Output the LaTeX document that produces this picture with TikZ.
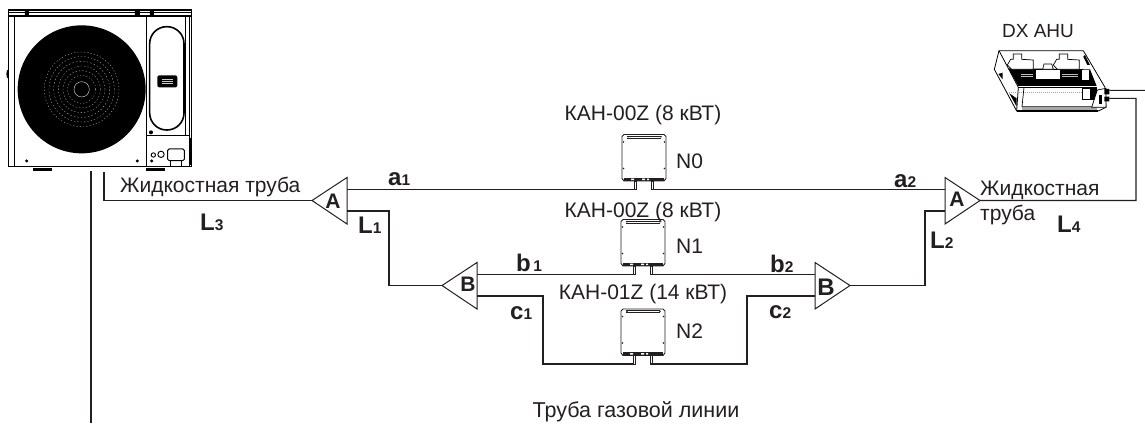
\documentclass[tikz,border=0pt]{standalone}
\usepackage{fontspec}
\setmainfont{Liberation Sans}
\definecolor{ink}{HTML}{231F20}
\tikzset{
  pipe/.style={draw=ink,line width=1.1pt,line join=miter},
  txt/.style={text=ink,font=\fontsize{21}{24}\selectfont,inner sep=0pt},
  lbl/.style={text=ink,inner sep=0pt,anchor=base west},
  tee/.style={draw=ink,line width=1pt,fill=white},
  pics/device/.style={code={
    \draw[draw=ink,line width=.9pt,fill=white] (2,0)--(42,0)--(44,2)--(44,44)--(42,46.5)--(2,46.5)--(0,44)--(0,2)--cycle;
    \draw[ink,line width=.5pt] (5,1.5)--(39,1.5) (5,3.5)--(39,3.5);
    \foreach \p in {(6,2.3),(39,2.3),(1.5,7.5),(42.5,7.5),(1.5,34),(42.5,34)} \fill[ink] \p circle (.9);
    \fill[ink] (2,43.2) rectangle (42,46.5);
    \fill[white] (9,44) rectangle (12,45.5) (20,44) rectangle (23,45.5) (25,44) rectangle (27,45.5);
    \draw[ink,line width=.5pt,fill=white] (12,46.5) rectangle (14,55) (29,46.5) rectangle (31,55);
    \coordinate (-l) at (13,55);
    \coordinate (-r) at (30,55);
  }},
  pics/teeL/.style={code={
    \draw[tee] (0,0)--(35,-23)--(35,23.5)--cycle;
    \coordinate (-tip) at (0,0);
    \coordinate (-a) at (35,-11);
    \coordinate (-b) at (35,10.5);
  }},
  pics/teeR/.style={code={
    \draw[tee] (0,0)--(-35,-23)--(-35,23.5)--cycle;
    \coordinate (-tip) at (0,0);
    \coordinate (-a) at (-35,-11);
    \coordinate (-b) at (-35,10.5);
  }},
}
\newcommand{\sbb}[2]{{\fontsize{24}{24}\selectfont\bfseries #1}{\fontsize{15.5}{15}\selectfont\bfseries #2}}
\begin{document}
\begin{tikzpicture}[x=1pt,y=-1pt]
\useasboundingbox (0,0) rectangle (1145,423);
% ---------- outdoor unit
\begin{scope}[x=.33333pt,y=-.33333pt]
  \fill[black] (100,503) rectangle (157,513);
  \fill[black] (438,503) rectangle (495,513);
  \fill[black] (25,222) ellipse (6 and 14);
  \draw[black,line width=1.2pt,fill=white] (25,30) rectangle (575,500);
  \draw[black,line width=.8pt] (25,37)--(575,37);
  \draw[black,line width=1pt] (25,48)--(575,48);
  \draw[black,line width=.8pt] (42,48)--(42,500) (440,48)--(440,500) (555,48)--(555,405) (567,48)--(567,500) (440,405)--(567,405);
  \fill[black] (75,30) rectangle (87,48) (405,30) rectangle (420,48) (450,30) rectangle (462,48);
  \fill[black] (245,268) circle (192);
  \foreach \r/\d in {42/1.2,56/1.4,70/1.3,84/1.6,98/1.4,112/1.3}
    \draw[gray!45,line width=.3pt,dash pattern=on \d pt off 2pt] (245,268) circle (\r);
  \draw[white,line width=.35pt] (245,268) circle (23);
  \draw[black,line width=1.6pt,rounded corners=17pt] (449,80) rectangle (552,390);
  \fill[black,rounded corners=2pt] (472,226) rectangle (532,262);
  \draw[gray!40,line width=.5pt] (485,238)--(518,238) (485,244)--(518,244) (485,250)--(518,250);
  \fill[black] (453,397) circle (6);
  \fill[black] (80,483) circle (5) (412,483) circle (5) (455,483) circle (5);
  \draw[black,line width=.9pt] (460,465) circle (6.5) (483,463) circle (9.5);
  \draw[black,line width=1pt,rounded corners=1.5pt] (503,482)--(503,447)--(553,447)--(553,482)--cycle;
  \draw[black,line width=.8pt] (510,482)--(510,498) (545,482)--(545,498);
  \fill[black] (567,415) rectangle (575,495);
\end{scope}
% ---------- DX AHU
\begin{scope}[x=.33333pt,y=-.33333pt,shift={(2850,0)}]
  \draw[black,line width=.8pt,fill=white] (147,152)--(400,152)--(465,262)--(468,322)--(445,333)--(200,333)--(133,208)--cycle;
  \fill[black] (175,205)--(205,258)--(440,258)--(420,208)--cycle;
  \fill[white] (258,210) rectangle (330,238);
  \draw[gray!50,line width=.5pt] (212,222)--(250,222) (212,230)--(250,230) (335,222)--(385,222) (335,230)--(385,230);
  \fill[white] (395,210) rectangle (418,240);
  \draw[black,line width=.7pt,fill=white] (172,195)--(182,178)--(190,178)--(190,162)--(215,162)--(215,178)--(250,180)--(250,208)--(185,208)--cycle;
  \draw[black,line width=.7pt,fill=white] (310,195)--(320,178)--(328,178)--(328,162)--(353,162)--(353,178)--(388,180)--(388,208)--(322,208)--cycle;
  \draw[black,line width=.7pt,fill=white] (278,208)--(282,192)--(305,192)--(310,208)--cycle;
  \draw[black,line width=.8pt] (147,152)--(205,262)--(200,333);
  \draw[black,line width=1.1pt] (205,262)--(440,262);
  \draw[gray!70,line width=.7pt,dash pattern=on 1.5pt off .5pt] (170,278)--(395,278);
  \draw[black,line width=.7pt] (222,262)--(216,320)--(425,320);
  \draw[black,line width=1.1pt] (200,333)--(445,333);
  \fill[gray!70] (216,322) rectangle (440,331);
  \fill[black] (145,222)--(158,218)--(158,238)--cycle;
  \fill[black] (178,280)--(200,320)--(200,295)--cycle;
  \draw[black,line width=.9pt] (398,265) rectangle (430,298);
  \fill[black] (420,262) rectangle (440,300);
  \fill[black] (405,165)--(420,195)--(412,195)--(400,170)--cycle;
  \draw[black,line width=.7pt,fill=white] (442,270)--(468,265)--(468,322)--(425,322)--cycle;
  \fill[black] (446,285) rectangle (456,312);
  \fill[black] (463,267) rectangle (478,283) (463,290) rectangle (478,304);
  \coordinate (ahuU) at (478,271);
  \coordinate (ahuL) at (478,295);
\end{scope}
% ---------- indoor units
\pic (n0) at (622,134.5) {device};
\pic (n1) at (621,219.5) {device};
\pic (n2) at (621,309) {device};
% ---------- tees
\pic (tA) at (312,200.5) {teeL};
\pic (tB) at (442,285.5) {teeL};
\pic (rA) at (980,200.5) {teeR};
\pic (rB) at (850,285.5) {teeR};
% ---------- free ends
\coordinate (odu) at (104,172);
\coordinate (riserT) at (91,171);
\coordinate (riserB) at (91,423);
\coordinate (edge) at (1145,90.33);
% ---------- connectors
\draw[pipe] (riserT)--(riserB);
\draw[pipe] (odu)|-(tA-tip);
\draw[pipe] (tA-a)--(n0-l);
\draw[pipe] (n0-r)--(rA-a);
\draw[pipe] (tA-b)-|(389,285.5)--(tB-tip);
\draw[pipe] (tB-a)--(n1-l);
\draw[pipe] (n1-r)--(rB-a);
\draw[pipe] (tB-b)-|(543,364)--(n2-l);
\draw[pipe] (n2-r)-|(747,296)--(rB-b);
\draw[pipe] (rB-tip)-|(925,211)--(rA-b);
\draw[pipe] (rA-tip)-|(1136,98.33)--(ahuL);
\draw[pipe] (ahuU)--(edge);
% ---------- texts
\node[txt,anchor=base west] (liqL) at (120,192) {Жидкостная труба};
\node[txt,anchor=base west] (liqR1) at (980,195) {Жидкостная};
\node[txt,anchor=base west] (liqR2) at (980,220) {труба};
\node[txt,anchor=base] (nt0) at (643,120) {КАН-00Z (8 кВТ)};
\node[txt,anchor=base] (nt1) at (643,217) {КАН-00Z (8 кВТ)};
\node[txt,anchor=base] (nt2) at (643,299) {КАН-01Z (14 кВТ)};
\node[txt,anchor=base west] (n0t) at (676,168) {N0};
\node[txt,anchor=base west] (n1t) at (676,253) {N1};
\node[txt,anchor=base west] (n2t) at (676,338) {N2};
\node[txt,anchor=base,font=\fontsize{21.5}{24}\selectfont] (gas) at (636,417) {Труба газовой линии};
\node[lbl,anchor=base,font=\fontsize{19}{22}\selectfont] (ahu) at (1038,37.5) {DX AHU};
\node[lbl] (L3) at (200,230) {\sbb{L}{3}};
\node[lbl] (L1) at (358,233) {\sbb{L}{1}};
\node[lbl] (L2) at (930,248) {\sbb{L}{2}};
\node[lbl] (L4) at (1057,232) {\sbb{L}{4}};
\node[lbl] (a1) at (388,185) {\sbb{a}{1}};
\node[lbl] (a2) at (894,187) {\sbb{a}{2}};
\node[lbl] (b1) at (516,271) {\sbb{b}{\,1}};
\node[lbl] (b2) at (770,272) {\sbb{b}{2}};
\node[lbl] (c1) at (510,319) {\sbb{c}{1}};
\node[lbl] (c2) at (769,318) {\sbb{c}{2}};
\node[lbl,anchor=base,font=\fontsize{21}{20}\selectfont\bfseries] (tAt) at (333,208.5) {A};
\node[lbl,anchor=base,font=\fontsize{21}{20}\selectfont\bfseries] (tBt) at (468,291.5) {B};
\node[lbl,anchor=base,font=\fontsize{21}{20}\selectfont\bfseries] (rAt) at (957,206.5) {A};
\node[lbl,anchor=base,font=\fontsize{24}{20}\selectfont\bfseries] (rBt) at (826,295.5) {B};
\end{tikzpicture}
\end{document}
